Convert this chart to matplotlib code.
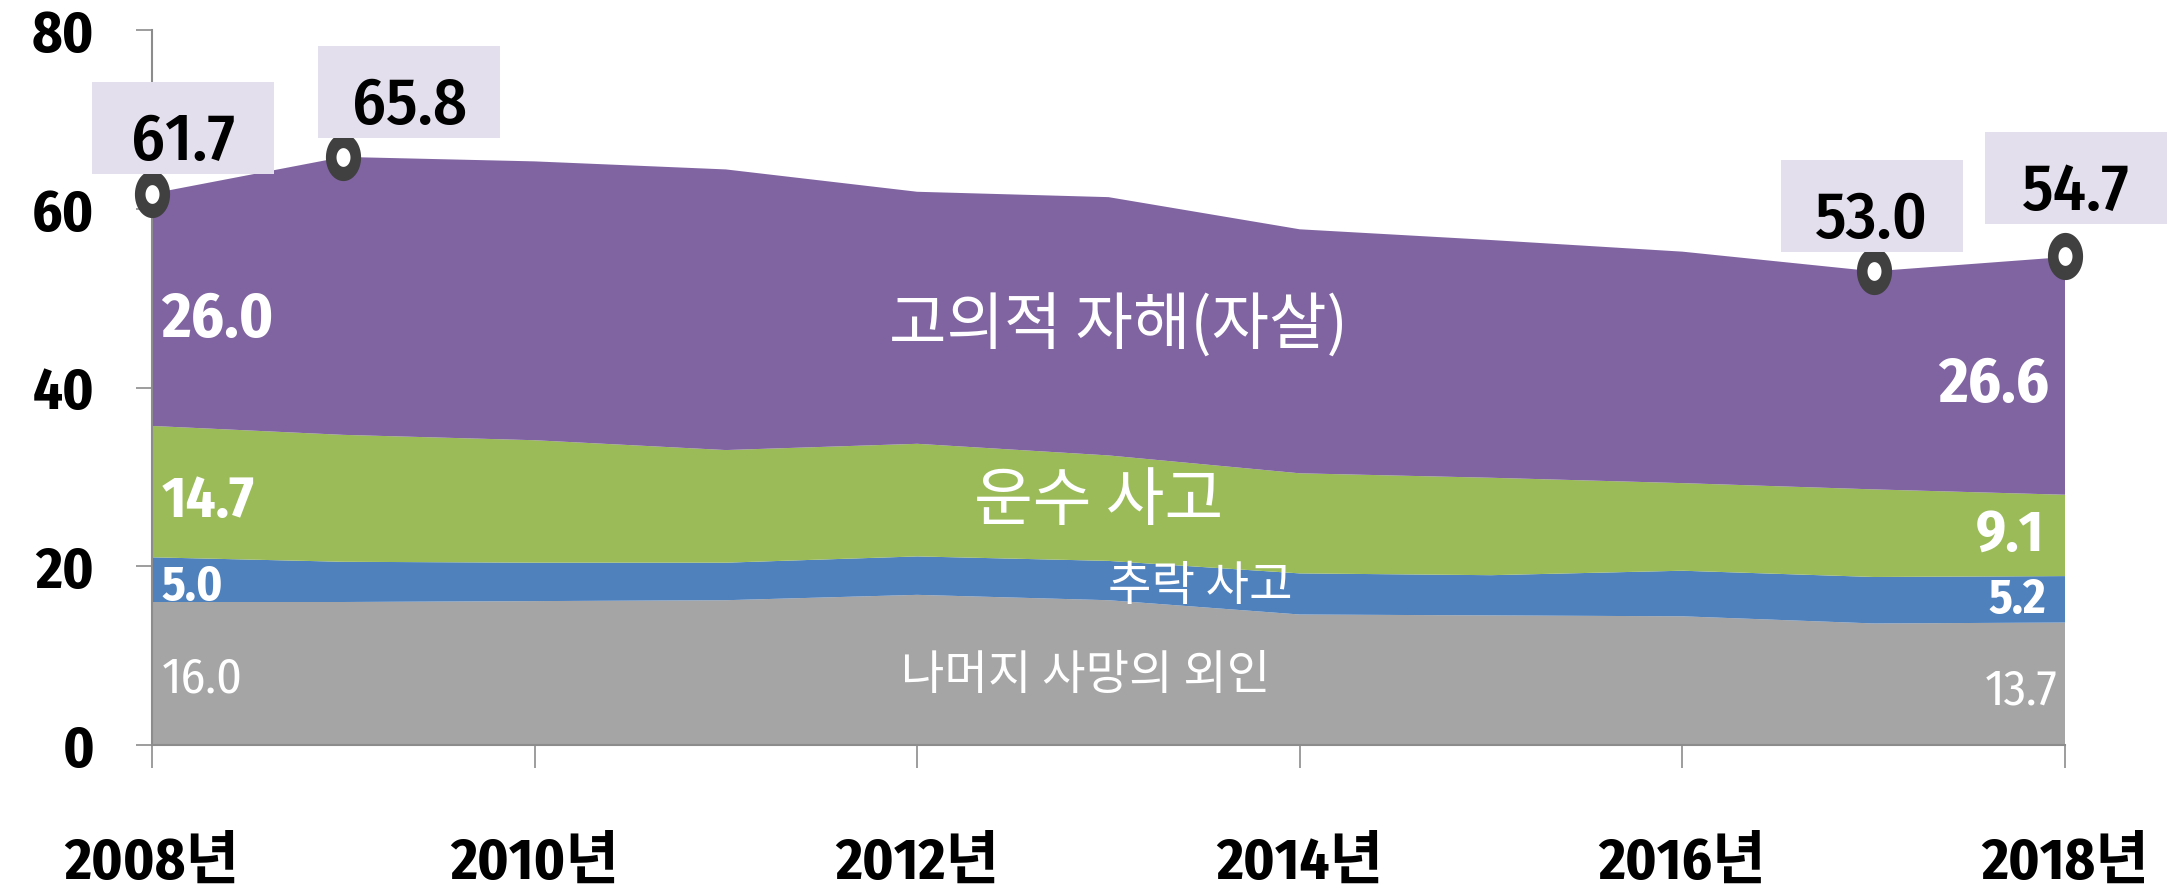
import numpy as np
import matplotlib
matplotlib.use("Agg")
import matplotlib.pyplot as plt
from matplotlib.patches import Rectangle
from matplotlib.transforms import IdentityTransform
from matplotlib.path import Path

# ---------------- data ----------------
years = [2008, 2009, 2010, 2011, 2012, 2013, 2014, 2015, 2016, 2017, 2018]
other = [16.0, 16.0, 16.1, 16.2, 16.8, 16.2, 14.6, 14.5, 14.4, 13.6, 13.7]      # 나머지 사망의 외인
fall = [5.0, 4.5, 4.3, 4.2, 4.3, 4.4, 4.6, 4.5, 5.1, 5.2, 5.2]                 # 추락 사고
transport = [14.7, 14.2, 13.7, 12.6, 12.6, 11.8, 11.2, 10.9, 9.8, 9.8, 9.1]    # 운수 사고
suicide = [26.0, 31.1, 31.2, 31.4, 28.2, 28.9, 27.3, 26.6, 25.9, 24.4, 26.6]   # 고의적 자해(자살)

series_names = ["나머지 사망의 외인", "추락 사고", "운수 사고", "고의적 자해(자살)"]
total_years = [2008, 2009, 2017, 2018]
total_values = [61.7, 65.8, 53.0, 54.7]

xtick_years = [2008, 2010, 2012, 2014, 2016, 2018]
xtick_labels = ["2008년", "2010년", "2012년", "2014년", "2016년", "2018년"]
yticks = [0, 20, 40, 60, 80]

# ---------------- style ----------------
colors = ["#A5A5A5", "#4F81BD", "#9BBB59", "#8064A2"]
NUM = ["Fira Sans Condensed", "Noto Sans CJK KR", "DejaVu Sans"]
KOR = ["Noto Sans CJK KR", "DejaVu Sans"]
plt.rcParams["font.family"] = NUM

W, H, DPI = 2170, 890, 100
fig = plt.figure(figsize=(W / DPI, H / DPI), dpi=DPI)
ax = fig.add_axes([152 / W, 145 / H, (2065 - 152) / W, (745 - 30) / H])

ax.stackplot(years, other, fall, transport, suicide, colors=colors,
             linewidth=0, edgecolor="none")

ax.set_xlim(2008, 2018)
ax.set_ylim(0, 80)
ax.margins(0)

axis_col = "#8C8C8C"
for s in ["top", "right"]:
    ax.spines[s].set_visible(False)
for s in ["left", "bottom"]:
    ax.spines[s].set_color(axis_col)
    ax.spines[s].set_linewidth(1.5)
ax.spines["bottom"].set_zorder(5)

ax.set_yticks(yticks)
ax.set_yticklabels([str(v) for v in yticks], fontsize=42, fontweight="bold",
                   family=NUM)
ax.tick_params(axis="y", length=11.5, width=1.2, color=axis_col, pad=30)

ax.set_xticks(xtick_years)
ax.set_xticklabels(xtick_labels, fontsize=42, fontweight="bold", family=NUM)
ax.tick_params(axis="x", length=16.5, width=1.2, color=axis_col, pad=48)

# ---------------- in-area value labels ----------------
left_labels = [(suicide[0], 45.6, 46, "bold"), (transport[0], 25.5, 42, "bold"),
               (fall[0], 16.2, 35, "bold"), (other[0], 5.9, 36, "normal")]
for val, yb, fs, fw in left_labels:
    ax.text(2008.05, yb, f"{val:.1f}", color="white", fontsize=fs, fontweight=fw,
            ha="left", va="baseline", family=NUM)

right_labels = [(suicide[-1], 2017.92, 38.4, 46, "bold"),
                (transport[-1], 2017.89, 21.8, 42, "bold"),
                (fall[-1], 2017.90, 14.8, 35, "bold"),
                (other[-1], 2017.96, 4.5, 36, "normal")]
for val, xr, yb, fs, fw in right_labels:
    ax.text(xr, yb, f"{val:.1f}", color="white", fontsize=fs, fontweight=fw,
            ha="right", va="baseline", family=NUM)

# series names
name_pos = [(2012.88, 7.8, 34, "normal"), (2013.48, 17.7, 34, "medium"),
            (2012.95, 27.2, 46, "medium"), (2013.05, 46.8, 45, "medium")]
for name, (x, y, fs, fw) in zip(series_names, name_pos):
    ax.text(x, y, name, color="white", fontsize=fs, fontweight=fw,
            ha="center", va="center", family=KOR)

# ---------------- total markers & boxed labels ----------------
t = np.linspace(0, 2 * np.pi, 60)
ell = np.column_stack([0.745 * np.cos(t), np.sin(t)])
ell_marker = Path(ell, closed=True)

ax.plot(total_years, total_values, linestyle="none", marker=ell_marker,
        markersize=34, markerfacecolor="#404040", markeredgewidth=0,
        clip_on=False, zorder=6)
ax.plot(total_years, total_values, linestyle="none", marker=ell_marker,
        markersize=13.5, markerfacecolor="white", markeredgewidth=0,
        clip_on=False, zorder=7)

box_offsets = [(-60, 20), (-25, 19), (-93, 19), (-80, 32)]
BW, BH = 182, 92
fig.canvas.draw()
for yr, val, (dx, dy) in zip(total_years, total_values, box_offsets):
    px, py = ax.transData.transform((yr, val))
    rect = Rectangle((px + dx, py + dy), BW, BH, transform=IdentityTransform(),
                     facecolor="#E4DFEC", edgecolor="none", zorder=4,
                     clip_on=False)
    fig.add_artist(rect)
    fig.text((px + dx + BW / 2) / W, (py + dy + 14) / H, f"{val:.1f}",
             ha="center", va="baseline", fontsize=48, fontweight="medium",
             color="black", family=NUM, zorder=8)

fig.savefig("out.png", dpi=DPI)
